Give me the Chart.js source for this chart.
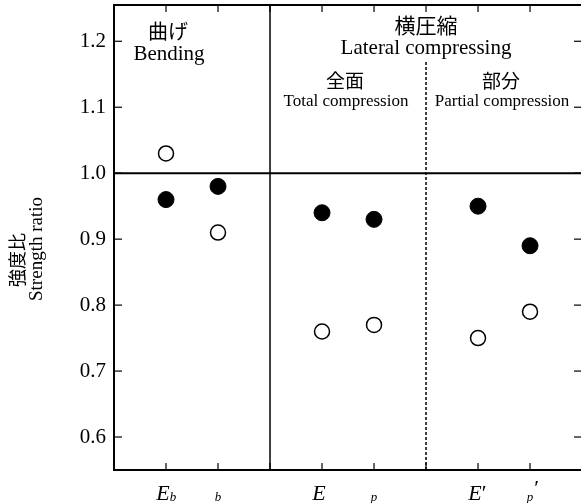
<!DOCTYPE html>
<html>
<head>
<meta charset="utf-8">
<script src="https://cdn.jsdelivr.net/npm/chart.js@4.4.0/dist/chart.umd.min.js"></script>
<style>
  html, body { margin: 0; padding: 0; background: #fff; overflow: hidden; }
</style>
</head>
<body>
<canvas id="grafico" width="581" height="503"></canvas>
<script>
// posições das categorias no eixo x (1..8, com 3 e 6 sendo os divisores)
const categorias = ["Eb", "σb", "E", "σp", "E'", "σp'"];
const posicoes = [1, 2, 4, 5, 7, 8];
const divisores = [3, 6];
const cheios = [0.96, 0.98, 0.94, 0.93, 0.95, 0.89];   // círculos pretos
const vazios = [1.03, 0.91, 0.76, 0.77, 0.75, 0.79];   // círculos brancos
const yTicks = [0.6, 0.7, 0.8, 0.9, 1.0, 1.1, 1.2];
const xTicks = [1, 2, 3, 4, 5, 6, 7, 8];
const linhaRef = 1.0;

const SERIF = '"Liberation Serif", "DejaVu Serif", serif';
const CJK = '"Noto Sans CJK JP", "Noto Sans", sans-serif';

function pontos(vals) {
  return posicoes.map((x, i) => ({ x: x, y: vals[i] }));
}

// rótulos do eixo x: [base, subscrito, linha]
const rotulosX = [
  ["E", "b", false],
  ["", "b", false],
  ["E", "", false],
  ["", "p", false],
  ["E", "", true],
  ["", "p", true]
];

function semPadding(s) {
  s.paddingTop = 0; s.paddingBottom = 0; s.paddingLeft = 0; s.paddingRight = 0;
}

const desenhos = {
  id: "desenhos",
  beforeDatasetsDraw(chart) {
    const ctx = chart.ctx;
    const a = chart.chartArea;
    const sx = chart.scales.x, sy = chart.scales.y;
    ctx.save();
    ctx.strokeStyle = "#000";
    // linha de referência em 1.0
    ctx.lineWidth = 2;
    const yr = sy.getPixelForValue(linhaRef);
    ctx.beginPath(); ctx.moveTo(a.left, yr); ctx.lineTo(a.right, yr); ctx.stroke();
    // divisor sólido
    let xd = sx.getPixelForValue(divisores[0]);
    ctx.lineWidth = 1.5;
    ctx.beginPath(); ctx.moveTo(xd, a.top); ctx.lineTo(xd, a.bottom); ctx.stroke();
    // divisor tracejado
    xd = sx.getPixelForValue(divisores[1]);
    ctx.setLineDash([3, 2]);
    ctx.beginPath(); ctx.moveTo(xd, 62); ctx.lineTo(xd, a.bottom); ctx.stroke();
    ctx.setLineDash([]);
    // moldura superior
    ctx.lineWidth = 2;
    ctx.beginPath(); ctx.moveTo(a.left, a.top); ctx.lineTo(a.right, a.top); ctx.stroke();
    // ticks para dentro
    ctx.lineWidth = 1.2;
    xTicks.forEach(v => {
      const x = sx.getPixelForValue(v);
      ctx.beginPath(); ctx.moveTo(x, a.bottom); ctx.lineTo(x, a.bottom - 7); ctx.stroke();
      ctx.beginPath(); ctx.moveTo(x, a.top); ctx.lineTo(x, a.top + 7); ctx.stroke();
    });
    yTicks.forEach(v => {
      const y = sy.getPixelForValue(v);
      ctx.beginPath(); ctx.moveTo(a.left, y); ctx.lineTo(a.left + 8, y); ctx.stroke();
      ctx.beginPath(); ctx.moveTo(a.right, y); ctx.lineTo(a.right - 7, y); ctx.stroke();
    });

    // textos do cabeçalho
    ctx.fillStyle = "#000";
    ctx.textAlign = "center";
    ctx.textBaseline = "middle";
    ctx.font = "20px " + CJK;
    ctx.fillText("曲げ", 168, 31);
    ctx.font = "21px " + CJK;
    ctx.fillText("横圧縮", 426, 25);
    ctx.font = "19px " + CJK;
    ctx.fillText("全面", 345, 81);
    ctx.fillText("部分", 501, 81);
    ctx.font = "21px " + SERIF;
    ctx.fillText("Bending", 169, 54);
    ctx.fillText("Lateral compressing", 426, 48);
    ctx.font = "17px " + SERIF;
    ctx.fillText("Total compression", 346, 102);
    ctx.fillText("Partial compression", 502, 102);

    // título do eixo y
    ctx.save();
    ctx.translate(17, 260);
    ctx.rotate(-Math.PI / 2);
    ctx.font = "18px " + CJK;
    ctx.fillText("強度比", 0, 0);
    ctx.restore();
    ctx.save();
    ctx.translate(37, 249);
    ctx.rotate(-Math.PI / 2);
    ctx.font = "19px " + SERIF;
    ctx.fillText("Strength ratio", 0, 0);
    ctx.restore();

    // rótulos do eixo x
    ctx.textAlign = "left";
    ctx.textBaseline = "alphabetic";
    posicoes.forEach((p, i) => {
      const [base, sub, linha] = rotulosX[i];
      const x = sx.getPixelForValue(p);
      const yb = 500;
      ctx.font = "italic 22px " + SERIF;
      const wb = ctx.measureText(base).width;
      ctx.font = "italic 13px " + SERIF;
      const ws = ctx.measureText(sub).width;
      let x0 = base ? x - 3 - wb / 2 : x - ws / 2;
      ctx.font = "italic 22px " + SERIF;
      ctx.fillText(base, x0, yb);
      ctx.font = "italic 13px " + SERIF;
      ctx.fillText(sub, x0 + wb, yb + 1);
      if (linha) {
        ctx.font = "22px " + SERIF;
        ctx.fillText("′", x0 + wb + ws + (base ? 0 : 1), base ? yb : yb - 5);
      }
    });
    ctx.restore();
  }
};

new Chart(document.getElementById("grafico"), {
  type: "scatter",
  data: {
    datasets: [
      {
        label: "cheio",
        data: pontos(cheios),
        pointRadius: 8,
        pointBackgroundColor: "#000",
        pointBorderColor: "#000",
        pointBorderWidth: 1
      },
      {
        label: "vazio",
        data: pontos(vazios),
        pointRadius: 7.5,
        pointBackgroundColor: "#fff",
        pointBorderColor: "#000",
        pointBorderWidth: 1.5
      }
    ]
  },
  options: {
    responsive: false,
    animation: false,
    layout: { autoPadding: false, padding: { left: 0, right: 0, top: 5, bottom: 0 } },
    plugins: { legend: { display: false }, tooltip: { enabled: false } },
    scales: {
      x: {
        type: "linear",
        min: 0,
        max: 8.98,
        grid: { display: false, drawTicks: false },
        border: { color: "#000", width: 2 },
        ticks: { display: false },
        afterFit: s => { s.height = 33; semPadding(s); }
      },
      y: {
        min: 0.55,
        max: 1.255,
        grid: { display: false, drawTicks: false },
        border: { color: "#000", width: 2 },
        afterBuildTicks: s => { s.ticks = yTicks.map(v => ({ value: v })); },
        ticks: {
          color: "#000",
          padding: 8,
          font: { family: SERIF, size: 21 },
          callback: v => v.toFixed(1)
        },
        afterFit: s => { s.width = 114; semPadding(s); }
      }
    }
  },
  plugins: [desenhos]
});
</script>
</body>
</html>
